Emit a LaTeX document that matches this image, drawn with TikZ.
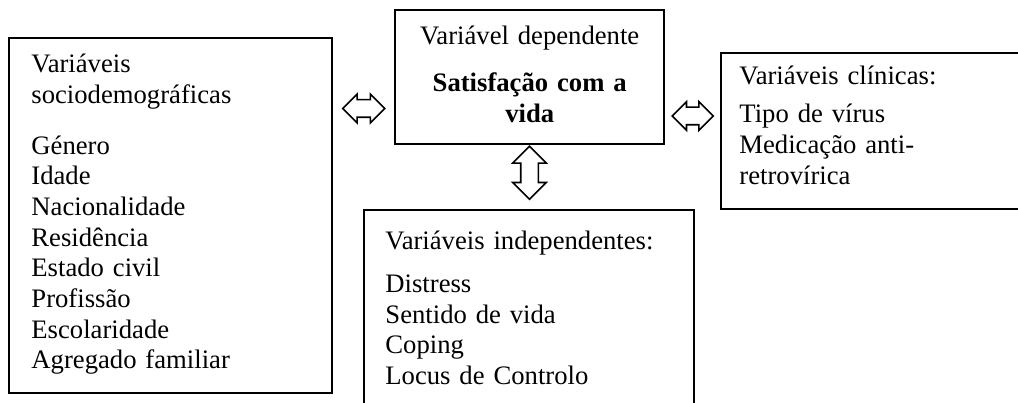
\documentclass[tikz,border=0pt]{standalone}
\usepackage{fontspec}
\setmainfont{Liberation Serif}
\usetikzlibrary{shapes.arrows,calc}
\tikzstyle{box} = [rectangle, draw, line width=1.1pt, inner sep=0pt, anchor=north west]
\tikzstyle{txt} = [text width=140pt, align=left, anchor=base west, inner sep=0pt, font=\fontsize{12}{13.8}\selectfont]
\tikzstyle{ctxt} = [text width=120pt, align=center, anchor=base, inner sep=0pt, font=\fontsize{12}{13.8}\selectfont]
\tikzstyle{dblarrow} = [double arrow, draw, line width=0.7pt, inner xsep=0pt, inner ysep=3.6pt, double arrow tip angle=90]

\begin{document}
\begin{tikzpicture}[x=0.45pt, y=-0.45pt]
   \useasboundingbox (0,0) rectangle (1018,403);
   \clip (0,0) rectangle (1018,403);
   % boxes
   \node[box, minimum width=145.35pt, minimum height=159.75pt] (socio) at (8,37) {};
   \node[box, minimum width=121.05pt, minimum height=60.3pt] (dep) at (394,9) {};
   \node[box, minimum width=139.5pt, minimum height=70.2pt] (clin) at (720,52) {};
   \node[box, minimum width=148.5pt, minimum height=94.95pt] (indep) at (363,209) {};

   % texts
   \node[txt] (sociotxt) at ([shift={(23,36)}]socio.north west)
      {Variáveis\\ sociodemográficas\\[9pt] Género\\ Idade\\ Nacionalidade\\ Residência\\ Estado civil\\ Profissão\\ Escolaridade\\ Agregado familiar};
   \node[ctxt] (deptxt) at ([shift={(0,36)}]dep.north)
      {Variável dependente\\[7.2pt] \textbf{Satisfação com a}\\ \textbf{vida}};
   \node[txt] (clintxt) at ([shift={(19,33)}]clin.north west)
      {Variáveis clínicas:\\[3.2pt] Tipo de vírus\\ Medicação anti-\\ retrovírica};
   \node[txt] (indeptxt) at ([shift={(22,41)}]indep.north west)
      {Variáveis independentes:\\[5.4pt] Distress\\ Sentido de vida\\ Coping\\ Locus de Controlo};

   % arrows
   \coordinate (lmid) at ($(socio.north east)!.5!(dep.north west)$);
   \coordinate (rmid) at ($(dep.north east)!.5!(clin.north west)$);
   \node[dblarrow, double arrow head extend=2.5pt, minimum height=18.9pt] (ldbl) at (lmid |- 0,108.5) {};
   \node[dblarrow, double arrow head extend=2.5pt, minimum height=18.5pt] (rdbl) at (rmid |- 0,116) {};
   \node[dblarrow, inner xsep=3.6pt, inner ysep=0pt, double arrow head extend=3.6pt, minimum height=23.85pt, shape border rotate=90] (vdbl)
      at ($(dep.south)!.43!(indep.north)$) {};
\end{tikzpicture}
\end{document}
